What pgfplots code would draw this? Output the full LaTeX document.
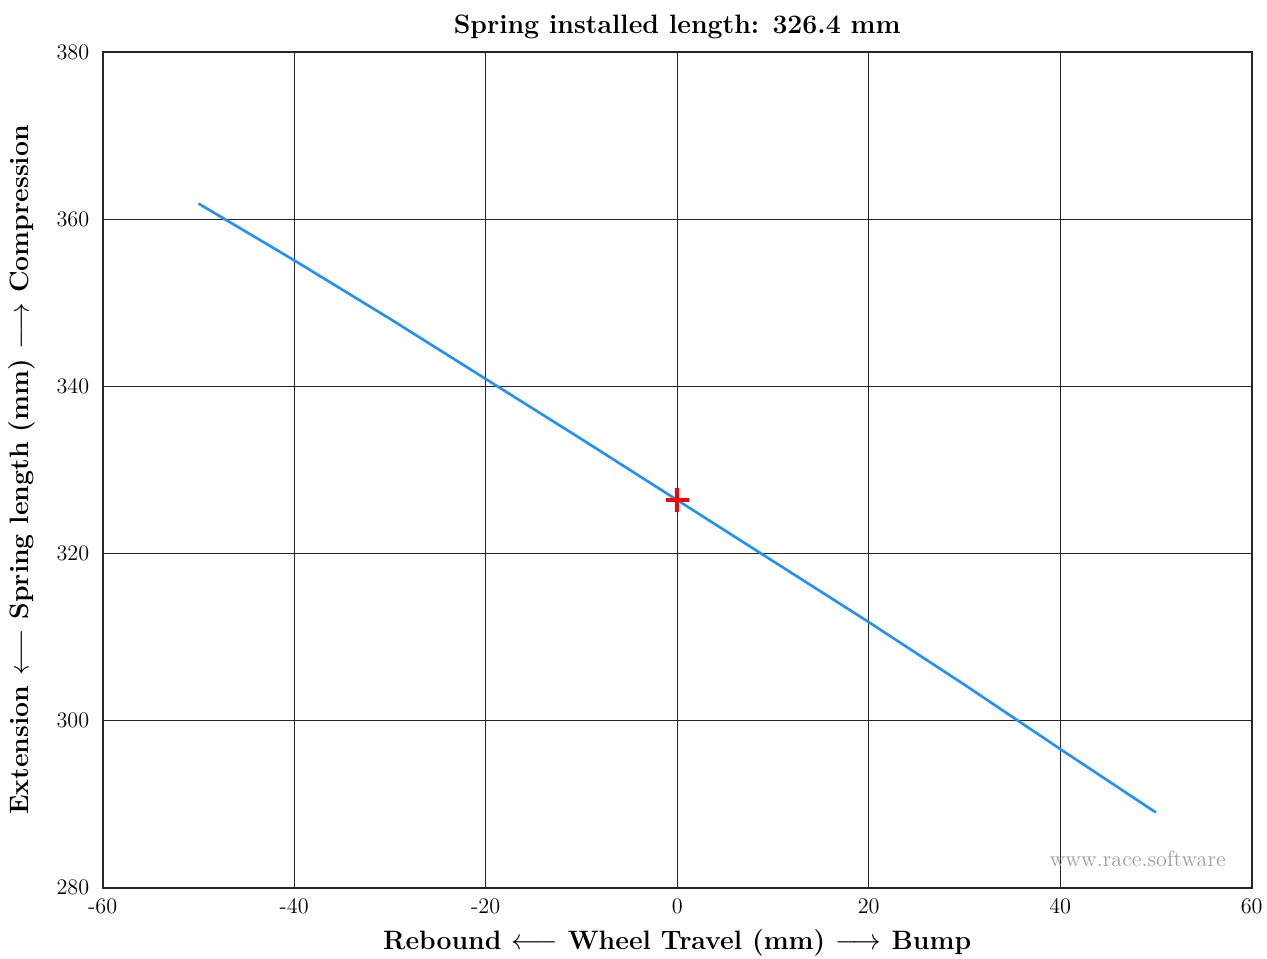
\documentclass[border=0pt]{standalone}
\usepackage{fontspec}
\usepackage{pgfplots}
\pgfplotsset{compat=1.18}

\definecolor{springblue}{RGB}{30,144,255}

\newcommand{\ticksize}{\fontsize{11.1}{13}\selectfont}
\newcommand{\labelsize}{\fontsize{13.3}{15}\selectfont\bfseries}

\begin{document}
\begin{tikzpicture}
\begin{axis}[
  name=ax,
  scale only axis,
  width=574.5pt, height=417.7pt,
  xmin=-60, xmax=60, ymin=280, ymax=380,
  xtick={-60,-40,...,60},
  ytick={280,300,...,380},
  grid=major,
  grid style={black!85, line width=0.5pt},
  axis line style={black!85, line width=0.9pt},
  tick style={black!85, line width=0.5pt},
  tick align=inside,
  major tick length=5pt,
  /pgf/number format/assume math mode=true,
  ticklabel style={font=\ticksize},
  xticklabel style={yshift=-1.8pt},
  yticklabel style={xshift=-3.2pt},
  title={Spring installed length: 326.4 mm},
  title style={font=\labelsize, at={(axis description cs:0.5,1.0155)}, anchor=center},
  xlabel={Rebound $\longleftarrow$ Wheel Travel (mm) $\longrightarrow$ Bump},
  xlabel style={font=\labelsize, at={(axis description cs:0.5,-0.0663)}, anchor=center},
  ylabel={Extension $\longleftarrow$ Spring length (mm) $\longrightarrow$ Compression},
  ylabel style={font=\labelsize, at={(axis description cs:-0.0702,0.5)}, anchor=center, rotate=0},
  clip=false,
]
% spring length over the wheel travel range
\addplot[springblue, line width=1.3pt, no markers] coordinates {
  (-50,361.9) (-40,355.1) (-30,348.1) (-20,340.9) (-10,333.7)
  (0,326.4) (10,319.1) (20,311.8) (30,304.3) (40,296.6) (50,289.0)
};
% installed (static) position
\addplot[red, only marks, mark=+, mark size=5.8pt, mark options={line width=2pt}] coordinates {(0,326.4)};
\node[anchor=base east, text=black!38, font=\ticksize, xshift=-9.5pt, yshift=10.85pt] at (rel axis cs:1,0) {www.race.software};
\end{axis}
\pgfresetboundingbox
\path ([xshift=-51.35pt,yshift=-35.15pt]ax.south west) rectangle ([xshift=7.65pt,yshift=26.15pt]ax.north east);
\end{tikzpicture}
\end{document}
